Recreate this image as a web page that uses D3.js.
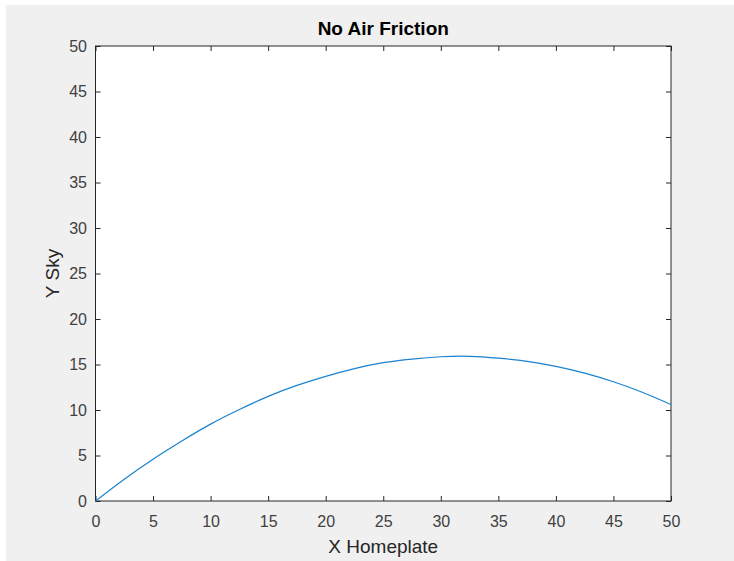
<!DOCTYPE html>
<html>
<head>
<meta charset="utf-8">
<script src="https://cdn.jsdelivr.net/npm/d3@7"></script>
<style>
    html, body { margin: 0; padding: 0; background: #ffffff; }
    svg { display: block; font-family: "Liberation Sans", Arial, Helvetica, sans-serif; }
</style>
</head>
<body>
<div id="chart"></div>
<script>
// trajectory (x homeplate, y sky)
var xValues = [0, 2.5, 5, 7.5, 10, 12.5, 15, 17.5, 20, 22.5, 25, 27.5, 30, 32.5, 35, 37.5, 40, 42.5, 45, 47.5, 50];
var yValues = [0, 2.4, 4.6, 6.6, 8.45, 10.05, 11.5, 12.7, 13.7, 14.55, 15.2, 15.6, 15.85, 15.9, 15.7, 15.35, 14.8, 14.05, 13.1, 11.95, 10.6];
var xTicks = [0, 5, 10, 15, 20, 25, 30, 35, 40, 45, 50];
var yTicks = [0, 5, 10, 15, 20, 25, 30, 35, 40, 45, 50];

var W = 734, H = 561;
var box = {left: 95.5, top: 46, right: 671, bottom: 501};

var svg = d3.select("#chart").append("svg")
    .attr("width", W)
    .attr("height", H);

// grey figure area
svg.append("rect")
    .attr("x", 6).attr("y", 5)
    .attr("width", W - 6).attr("height", H - 5)
    .attr("fill", "#f0f0f0");

svg.append("rect")
    .attr("x", box.left).attr("y", box.top)
    .attr("width", box.right - box.left).attr("height", box.bottom - box.top)
    .attr("fill", "#ffffff");

var x = d3.scaleLinear().domain([0, 50]).range([box.left, box.right]);
var y = d3.scaleLinear().domain([0, 50]).range([box.bottom, box.top]);

var axisColor = "#262626";

function styleAxis(g, labels) {
    g.select(".domain").remove();
    g.selectAll(".tick line").attr("stroke", axisColor).attr("stroke-width", 1);
    g.selectAll(".tick text")
        .attr("fill", labels ? "#404040" : "none")
        .attr("font-size", "16px");
}

// bottom + left with labels, top + right ticks only (all ticks inward)
svg.append("g")
    .attr("transform", "translate(0," + box.bottom + ")")
    .call(d3.axisBottom(x).tickValues(xTicks).tickSizeInner(-5).tickPadding(14.5).tickFormat(d3.format("d")))
    .call(function(g) { styleAxis(g, true); });

svg.append("g")
    .attr("transform", "translate(0," + box.top + ")")
    .call(d3.axisTop(x).tickValues(xTicks).tickSizeInner(-5).tickFormat(""))
    .call(function(g) { styleAxis(g, false); });

svg.append("g")
    .attr("transform", "translate(" + box.left + ",0)")
    .call(d3.axisLeft(y).tickValues(yTicks).tickSizeInner(-5).tickPadding(8.5).tickFormat(d3.format("d")))
    .call(function(g) { styleAxis(g, true); });

svg.append("g")
    .attr("transform", "translate(" + box.right + ",0)")
    .call(d3.axisRight(y).tickValues(yTicks).tickSizeInner(-5).tickFormat(""))
    .call(function(g) { styleAxis(g, false); });

svg.append("rect")
    .attr("x", box.left).attr("y", box.top)
    .attr("width", box.right - box.left).attr("height", box.bottom - box.top)
    .attr("fill", "none")
    .attr("stroke", axisColor)
    .attr("stroke-width", 1);

// the curve
var line = d3.line()
    .x(function(d) { return x(d[0]); })
    .y(function(d) { return y(d[1]); })
    .curve(d3.curveNatural);

svg.append("path")
    .datum(d3.zip(xValues, yValues))
    .attr("d", line)
    .attr("fill", "none")
    .attr("stroke", "#1a82cf")
    .attr("stroke-width", 1.2);

// texts
svg.append("text")
    .attr("x", (box.left + box.right) / 2)
    .attr("y", 35)
    .attr("text-anchor", "middle")
    .attr("font-size", "19px")
    .attr("font-weight", "bold")
    .attr("fill", "#000000")
    .text("No Air Friction");

svg.append("text")
    .attr("x", (box.left + box.right) / 2)
    .attr("y", 553)
    .attr("text-anchor", "middle")
    .attr("font-size", "19px")
    .attr("fill", "#262626")
    .text("X Homeplate");

svg.append("text")
    .attr("transform", "translate(58.5," + ((box.top + box.bottom) / 2) + ") rotate(-90)")
    .attr("text-anchor", "middle")
    .attr("font-size", "19px")
    .attr("fill", "#262626")
    .text("Y Sky");
</script>
</body>
</html>
